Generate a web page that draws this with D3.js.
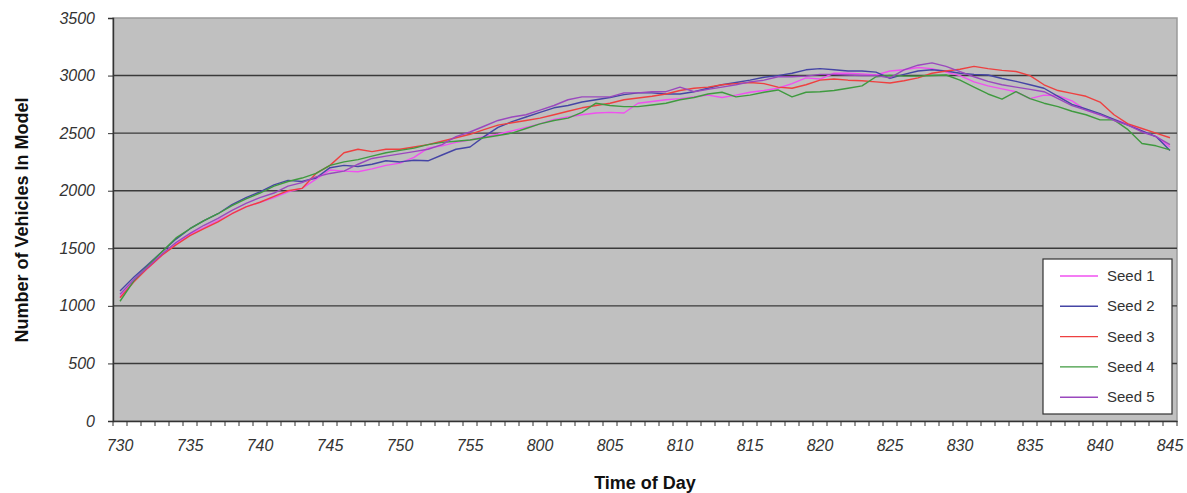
<!DOCTYPE html>
<html>
<head>
<meta charset="utf-8">
<script src="https://cdn.jsdelivr.net/npm/d3@7"></script>
<style>
  body { margin: 0; background: #fff; }
  svg { display: block; font-family: "Liberation Sans", Arial, sans-serif; }
</style>
</head>
<body>
<div id="chart"></div>
<script>
// one category per minute, 7:30 .. 8:45
const categories = [
  "730","731","732","733","734","735","736","737","738","739",
  "740","741","742","743","744","745","746","747","748","749",
  "750","751","752","753","754","755","756","757","758","759",
  "800","801","802","803","804","805","806","807","808","809",
  "810","811","812","813","814","815","816","817","818","819",
  "820","821","822","823","824","825","826","827","828","829",
  "830","831","832","833","834","835","836","837","838","839",
  "840","841","842","843","844","845"
];
const tickLabels = ["730","735","740","745","750","755","800","805","810","815","820","825",
  "830","835","840","845"];
const yTicks = [0, 500, 1000, 1500, 2000, 2500, 3000, 3500];

const seed1 = [1080,1220,1330,1440,1540,1620,1680,1740,1800,1860,1900,1940,1990,2020,2100,2180,2170,2165,2190,2220,
  2240,2290,2370,2390,2420,2440,2470,2490,2520,2550,2580,2620,2640,2660,2675,2680,2675,2760,2775,2790,
  2800,2815,2830,2810,2830,2855,2870,2890,2930,2980,2970,3020,3020,3015,3005,3040,3050,3070,3060,3030,
  3000,2945,2910,2885,2860,2800,2830,2825,2780,2700,2660,2620,2580,2520,2470,2380];
const seed2 = [1130,1250,1360,1470,1580,1670,1740,1800,1880,1940,1990,2050,2090,2080,2110,2200,2220,2210,2230,2260,
  2250,2265,2260,2310,2360,2380,2470,2550,2600,2640,2680,2720,2740,2770,2790,2810,2835,2850,2850,2840,
  2840,2860,2890,2920,2940,2960,2985,3000,3020,3050,3060,3050,3040,3040,3030,2975,3010,3040,3050,3040,
  3020,3010,3005,2975,2950,2920,2890,2820,2750,2710,2670,2620,2570,2520,2470,2350];
const seed3 = [1070,1210,1330,1440,1530,1610,1670,1730,1800,1860,1900,1950,2000,2020,2150,2220,2330,2360,2340,2360,
  2360,2380,2400,2430,2460,2490,2530,2570,2590,2610,2630,2660,2690,2720,2740,2760,2790,2805,2820,2840,
  2870,2890,2900,2920,2930,2940,2930,2900,2890,2920,2960,2970,2960,2955,2945,2935,2955,2980,3020,3040,
  3055,3080,3060,3045,3035,3000,2920,2870,2845,2820,2770,2660,2580,2540,2500,2460];
const seed4 = [1040,1220,1350,1470,1590,1670,1740,1800,1870,1930,1980,2040,2080,2110,2150,2220,2250,2270,2300,2330,
  2350,2370,2400,2420,2430,2440,2460,2480,2500,2540,2580,2610,2630,2680,2760,2740,2730,2730,2745,2760,
  2790,2810,2840,2855,2815,2830,2855,2875,2815,2855,2860,2870,2890,2910,2990,3000,2995,2995,3000,3005,
  2960,2900,2840,2795,2860,2800,2760,2730,2690,2660,2615,2615,2530,2410,2390,2355];
const seed5 = [1100,1230,1340,1450,1550,1630,1700,1760,1830,1890,1940,1980,2040,2070,2120,2150,2170,2230,2280,2300,
  2320,2340,2360,2400,2470,2510,2560,2610,2640,2660,2700,2740,2790,2815,2815,2815,2850,2850,2860,2860,
  2900,2860,2880,2900,2920,2945,2960,2990,2990,2995,3010,3010,3005,3000,3000,2980,3050,3090,3110,3080,
  3035,2990,2950,2920,2900,2880,2860,2800,2740,2700,2660,2610,2570,2510,2470,2400];

const seriesNames = ["Seed 1", "Seed 2", "Seed 3", "Seed 4", "Seed 5"];
const seriesColors = ["#f050f0", "#4545a5", "#ee4040", "#3f9a3f", "#9a48be"];
const seriesValues = [seed1, seed2, seed3, seed4, seed5];

const width = 1187;
const height = 493;
const plot = { left: 113, right: 1177, top: 18, bottom: 421 };

const svg = d3.select("#chart").append("svg")
    .attr("width", width)
    .attr("height", height);

const xScale = d3.scaleBand()
    .domain(categories)
    .range([plot.left, plot.right])
    .padding(0);

const yScale = d3.scaleLinear()
    .domain([0, 3500])
    .range([plot.bottom, plot.top]);

// plot background
svg.append("rect")
    .attr("x", plot.left)
    .attr("y", plot.top)
    .attr("width", plot.right - plot.left)
    .attr("height", plot.bottom - plot.top)
    .attr("fill", "#c0c0c0")
    .attr("stroke", "#9a9a9a")
    .attr("stroke-width", 1.5);

// gridlines
svg.append("g")
    .selectAll("line")
    .data(yTicks.filter(d => d > 0 && d < 3500))
    .enter()
    .append("line")
    .attr("x1", plot.left)
    .attr("x2", plot.right)
    .attr("y1", d => yScale(d))
    .attr("y2", d => yScale(d))
    .attr("stroke", "#3a3a3a")
    .attr("stroke-width", 1.4);

// y axis
const yAxis = svg.append("g")
    .attr("transform", `translate(${plot.left},0)`)
    .call(d3.axisLeft(yScale).tickValues(yTicks).tickFormat(d3.format("d")).tickSize(5).tickPadding(13));
yAxis.select(".domain").attr("stroke", "#333").attr("stroke-width", 1.4);
yAxis.selectAll(".tick line").attr("stroke", "#333");
yAxis.selectAll("text")
    .attr("fill", "#333")
    .style("font-size", "16px")
    .style("font-style", "italic");

// x axis: tick per minute, label every 5 minutes
const xAxis = svg.append("g")
    .attr("transform", `translate(0,${plot.bottom})`)
    .call(d3.axisBottom(xScale).tickValues(tickLabels).tickSize(0).tickPadding(19));
xAxis.select(".domain").attr("stroke", "#333").attr("stroke-width", 1.4);
xAxis.selectAll("text")
    .attr("fill", "#333")
    .style("font-size", "16px")
    .style("font-style", "italic");

svg.append("g")
    .selectAll("line")
    .data(categories.concat(["end"]))
    .enter()
    .append("line")
    .attr("x1", (d, i) => plot.left + i * xScale.bandwidth())
    .attr("x2", (d, i) => plot.left + i * xScale.bandwidth())
    .attr("y1", plot.bottom)
    .attr("y2", plot.bottom + 5)
    .attr("stroke", "#333")
    .attr("stroke-width", 1);

// lines
const line = d3.line()
    .x((d, i) => xScale(categories[i]) + xScale.bandwidth() / 2)
    .y(d => yScale(d));

svg.append("g")
    .selectAll("path")
    .data(seriesValues)
    .enter()
    .append("path")
    .attr("d", d => line(d))
    .attr("fill", "none")
    .attr("stroke", (d, i) => seriesColors[i])
    .attr("stroke-width", 1.4)
    .attr("stroke-linejoin", "round");

// legend
const legend = svg.append("g");
legend.append("rect")
    .attr("x", 1043)
    .attr("y", 259)
    .attr("width", 129)
    .attr("height", 155)
    .attr("fill", "#fff")
    .attr("stroke", "#333")
    .attr("stroke-width", 1.2);

const items = legend.selectAll(".item")
    .data(seriesNames)
    .enter()
    .append("g")
    .attr("class", "item")
    .attr("transform", (d, i) => `translate(0,${276 + i * 30.3})`);

items.append("line")
    .attr("x1", 1060)
    .attr("x2", 1098)
    .attr("stroke", (d, i) => seriesColors[i])
    .attr("stroke-width", 1.4);

items.append("text")
    .attr("x", 1107)
    .attr("y", 5)
    .attr("fill", "#333")
    .style("font-size", "15px")
    .text(d => d);

// axis titles
svg.append("text")
    .attr("transform", "translate(28,220) rotate(-90)")
    .attr("text-anchor", "middle")
    .attr("fill", "#111")
    .style("font-size", "18px")
    .style("font-weight", "bold")
    .text("Number of Vehicles In Model");

svg.append("text")
    .attr("x", 645)
    .attr("y", 489)
    .attr("text-anchor", "middle")
    .attr("fill", "#111")
    .style("font-size", "18px")
    .style("font-weight", "bold")
    .text("Time of Day");
</script>
</body>
</html>
